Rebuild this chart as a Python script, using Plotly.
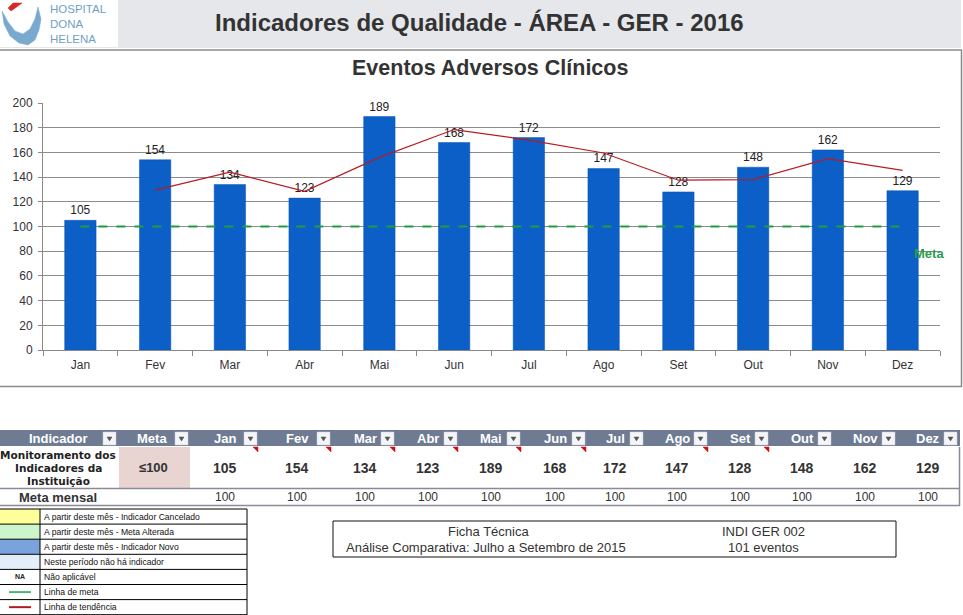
import plotly.graph_objects as go

W, H = 963, 615
months = ["Jan", "Fev", "Mar", "Abr", "Mai", "Jun", "Jul", "Ago", "Set", "Out", "Nov", "Dez"]
eventos = [105, 154, 134, 123, 189, 168, 172, 147, 128, 148, 162, 129]
meta = [100] * 12
trend_months = ["Fev", "Mar", "Abr", "Mai", "Jun", "Jul", "Ago", "Set", "Out", "Nov", "Dez"]
trend = [129.5, 144, 128.5, 156, 178.5, 170, 159.5, 137.5, 138, 155, 145.5]
y_ticks = [0, 20, 40, 60, 80, 100, 120, 140, 160, 180, 200]

legend_rows = [
    ("A partir deste mês - Indicador Cancelado", "#ffff99"),
    ("A partir deste mês - Meta Alterada", "#ccf5cc"),
    ("A partir deste mês - Indicador Novo", "#7aa3dc"),
    ("Neste período não há indicador", "#e3eef8"),
    ("Não aplicável", "NA"),
    ("Linha de meta", "green"),
    ("Linha de tendência", "red"),
]

FONT = "Arial, Liberation Sans, sans-serif"


def px(x):
    return x / W


def py(y):
    return 1 - y / H


shapes = []
annots = []


def rect(x0, y0, x1, y1, fill=None, line=None, lw=1):
    shapes.append(dict(type="rect", xref="paper", yref="paper",
                       x0=px(x0), x1=px(x1), y0=py(y1), y1=py(y0),
                       fillcolor=fill if fill else "rgba(0,0,0,0)",
                       line=dict(color=line if line else "rgba(0,0,0,0)", width=lw if line else 0),
                       layer="below"))


def hline(x0, x1, y, color, lw=1, dash="solid"):
    shapes.append(dict(type="line", xref="paper", yref="paper",
                       x0=px(x0), x1=px(x1), y0=py(y), y1=py(y),
                       line=dict(color=color, width=lw, dash=dash)))


def vline(x, y0, y1, color, lw=1):
    shapes.append(dict(type="line", xref="paper", yref="paper",
                       x0=px(x), x1=px(x), y0=py(y0), y1=py(y1),
                       line=dict(color=color, width=lw)))


def path(points, fill, line=None):
    d = "M " + " L ".join(f"{px(x):.5f},{py(y):.5f}" for x, y in points) + " Z"
    shapes.append(dict(type="path", xref="paper", yref="paper", path=d,
                       fillcolor=fill, line=dict(color=line or fill, width=0.5)))


def text(x, y, s, size=12, color="#333333", bold=False, xanchor="center", family=FONT):
    if bold:
        s = f"<b>{s}</b>"
    annots.append(dict(x=px(x), y=py(y), xref="paper", yref="paper", text=s,
                       showarrow=False, xanchor=xanchor, yanchor="middle",
                       font=dict(size=size, color=color, family=family)))


# Header band
rect(0, 0, 961, 48, fill="#e6e7ea")
rect(0, 0, 118, 47, fill="#ffffff")
# logo swoosh
path([(2, 11), (4, 24), (10, 36), (19, 43), (28, 45), (35, 40), (39, 30), (41, 19), (38, 7),
      (35, 19), (30, 29), (23, 34), (15, 31), (8, 22)], "#7aa9d0")
path([(8, 8), (13, 3), (22, 3), (18, 6), (14, 9), (11, 11)], "#d42a2a")
annots.append(dict(x=px(49), y=py(24), xref="paper", yref="paper",
                   text="HOSPITAL<br>DONA<br>HELENA", showarrow=False, align="left",
                   xanchor="left", yanchor="middle", borderpad=0,
                   font=dict(size=11.5, color="#6f9fc6", family=FONT)))
text(479, 23, "Indicadores de Qualidade - ÁREA - GER - 2016", size=24, color="#333333", bold=True)

# Chart border
hline(0, 962, 50, "#8a8a8a", 1.5)
vline(961.5, 50, 387, "#8a8a8a", 1.5)
hline(0, 962, 386.5, "#8a8a8a", 1.5)
text(490, 68, "Eventos Adversos Clínicos", size=21.5, color="#333333", bold=True)
text(929, 253, "Meta", size=13, color="#2e9a4e", bold=True)

# Data table
cols = [("Indicador", 0, 118, 58), ("Meta", 118, 190, 152)]
mcols = [(188, 259, 225), (259, 332, 297), (332, 396, 365), (396, 459, 428),
         (459, 522, 491), (522, 587, 555), (587, 645, 615), (645, 709, 677),
         (709, 770, 740), (770, 833, 802), (833, 897, 865), (897, 959, 928)]
for i, m in enumerate(months):
    cols.append((m, mcols[i][0], mcols[i][1], mcols[i][2]))
hdr_top, hdr_bot = 430, 446
rect(0, hdr_top, 960, hdr_bot, fill="#6f7b93")
for name, x0, x1, xc in cols:
    text(xc, 438.5, name, size=13, color="#ffffff", bold=True)
    dx1 = x1 - 2
    dx0 = dx1 - 13
    rect(dx0, 432, dx1, 445, fill="#f4f5f8", line="#c9ccd4", lw=0.5)
    path([(dx0 + 4, 437), (dx1 - 4, 437), ((dx0 + dx1) / 2, 441)], "#555555")
# row 1
rect(119, 447, 190, 488, fill="#e8d5d1")
TAH = "Tahoma, DejaVu Sans, Verdana, sans-serif"
text(58, 455, "Monitoramento dos", size=10.5, color="#222222", bold=True, family=TAH)
text(58, 468, "Indicadores da", size=10.5, color="#222222", bold=True, family=TAH)
text(58, 481, "Instituição", size=10.5, color="#222222", bold=True, family=TAH)
text(153, 467, "≤100", size=13, color="#333333", bold=True)
for i, v in enumerate(eventos):
    text(mcols[i][2], 468, str(v), size=14, color="#333333", bold=True)
red_marks = [0, 1, 2, 3, 4, 5, 7, 8]
for i in red_marks:
    xr = mcols[i][1] - 1
    path([(xr - 5, 447), (xr, 447), (xr, 452)], "#d01010")
hline(0, 960, 488.5, "#8a8a99", 1.5)
text(58, 497, "Meta mensal", size=13, color="#333333", bold=True)
for i, v in enumerate(meta):
    text(mcols[i][2], 497, str(v), size=12, color="#333333")
hline(0, 960, 505.5, "#8a8a99", 1.5)
vline(959.5, 447, 506, "#8a8a99", 1.5)

# Legend table bottom-left
ly0 = 509
rh = 15.1
for k, (label, style) in enumerate(legend_rows):
    y0 = ly0 + k * rh
    y1 = y0 + rh
    if style.startswith("#"):
        rect(0, y0, 40, y1, fill=style)
    elif style == "NA":
        text(20, (y0 + y1) / 2, "NA", size=7, color="#222222", bold=True)
    elif style == "green":
        hline(9, 31, (y0 + y1) / 2, "#1fa04a", 1.5)
    elif style == "red":
        hline(9, 31, (y0 + y1) / 2, "#b01c22", 2)
    text(42, (y0 + y1) / 2, label, size=8.6, color="#111111", xanchor="left",
         family="Liberation Sans Narrow, Arial Narrow, Liberation Sans, sans-serif")
    hline(0, 247, y0, "#000000", 1)
hline(0, 247, ly0 + 7 * rh, "#000000", 1)
vline(40, ly0, ly0 + 7 * rh, "#000000", 1)
vline(247, ly0, 615, "#000000", 1)

# Ficha tecnica box
rect(333, 521, 896, 557, line="#111111", lw=1)
text(489, 531, "Ficha Técnica", size=13, color="#333333")
text(486, 547, "Análise Comparativa: Julho a Setembro de 2015", size=13, color="#333333")
text(763, 531, "INDI GER 002", size=13, color="#333333")
text(763, 547, "101 eventos", size=13, color="#333333")

fig = go.Figure()
fig.add_trace(go.Bar(x=months, y=eventos, width=0.42,
                     marker=dict(color="#0b5fc6", line=dict(color="#0a56b4", width=0.5)),
                     text=eventos, textposition="outside", cliponaxis=False,
                     textfont=dict(size=12, color="#222222", family=FONT),
                     hoverinfo="x+y"))
fig.add_trace(go.Scatter(x=months, y=meta, mode="lines",
                         line=dict(color="#1f9e3f", width=2, dash="dash")))
fig.add_trace(go.Scatter(x=trend_months, y=trend, mode="lines",
                         line=dict(color="#b71c24", width=1.2)))

fig.update_layout(
    width=W, height=H, margin=dict(l=0, r=0, t=0, b=0, autoexpand=False),
    paper_bgcolor="#ffffff", plot_bgcolor="#ffffff",
    showlegend=False, bargap=0.58,
    font=dict(family=FONT, size=12, color="#333333"),
    shapes=shapes, annotations=annots,
    xaxis=dict(domain=[px(43), px(940)], showline=True, linecolor="#8a8a8a", linewidth=1,
               ticks="outside", tickson="boundaries", ticklen=5, tickcolor="#8a8a8a",
               ticklabelstandoff=4,
               showgrid=False, automargin=False, tickfont=dict(size=12, color="#333333")),
    yaxis=dict(domain=[py(350), py(103)], range=[0, 200], tickvals=y_ticks,
               showline=True, linecolor="#8a8a8a", ticks="outside", ticklen=4, tickcolor="#8a8a8a",
               ticklabelstandoff=3,
               showgrid=True, gridcolor="#8c8c8c", gridwidth=1, zeroline=False, automargin=False,
               tickfont=dict(size=12, color="#333333")),
)
fig.write_html("out.html", config={"displayModeBar": False},
               post_script="document.body.style.margin='0';document.body.style.padding='0';"
                           "document.body.style.overflow='hidden';")
